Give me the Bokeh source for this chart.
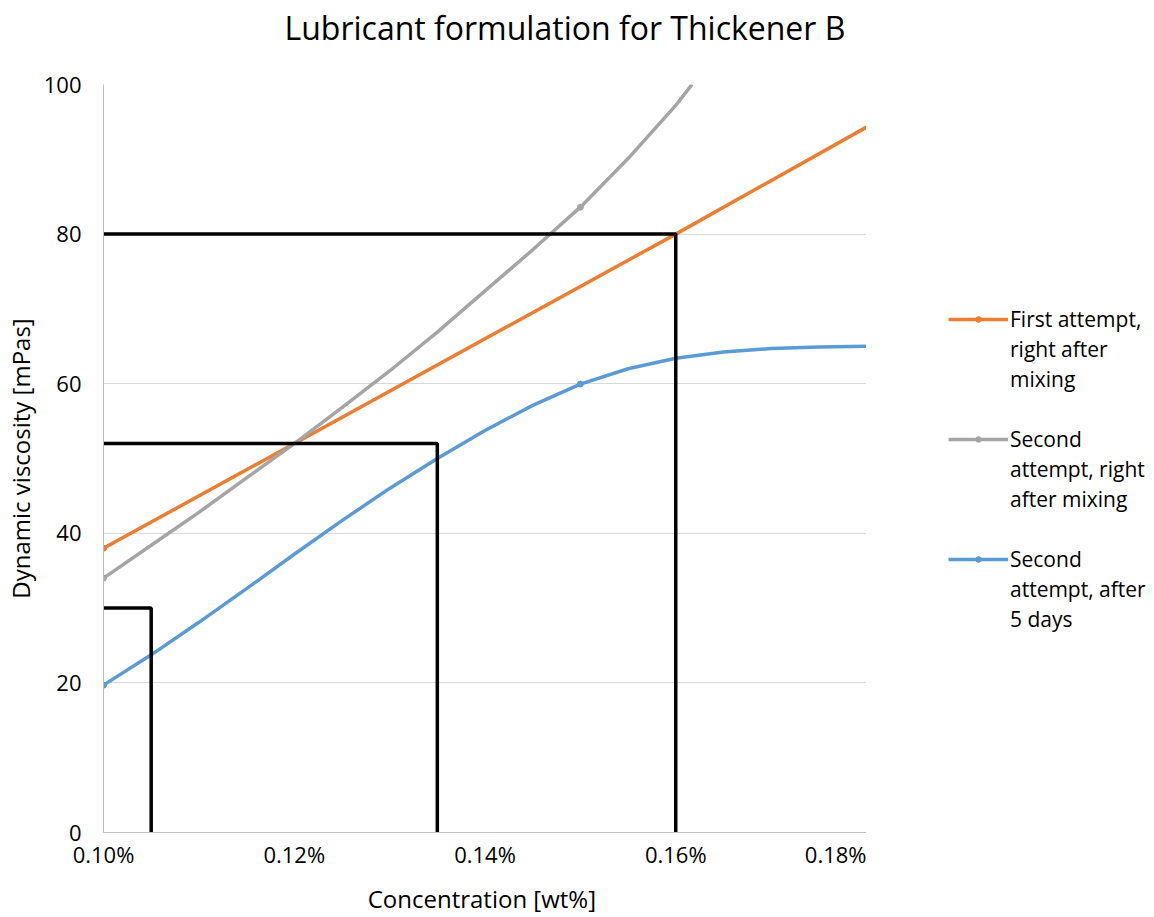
from bokeh.plotting import figure
from bokeh.layouts import row
from bokeh.models import Range1d, FixedTicker, PrintfTickFormatter, Legend, LegendItem, Title
from bokeh.embed import file_html
from bokeh.resources import INLINE

# ---- data ----
x_ticks = [0.10, 0.12, 0.14, 0.16, 0.18]
y_ticks = [0, 20, 40, 60, 80, 100]

first_conc = [0.10, 0.16, 0.18]
first_visc = [38.0, 80.0, 94.3]
first_marker_conc = [0.10]
first_marker_visc = [38.0]

second_conc = [0.100, 0.105, 0.110, 0.115, 0.120, 0.125, 0.130, 0.135,
               0.140, 0.145, 0.150, 0.155, 0.160, 0.1617]
second_visc = [34.0, 38.4, 42.8, 47.4, 52.0, 56.8, 61.7, 66.9,
               72.4, 77.9, 83.6, 90.1, 97.2, 100.0]
second_marker_conc = [0.10, 0.15]
second_marker_visc = [34.0, 83.6]

days_conc = [0.100, 0.105, 0.110, 0.115, 0.120, 0.125, 0.130, 0.135, 0.140,
             0.145, 0.150, 0.155, 0.160, 0.165, 0.170, 0.175, 0.180]
days_visc = [19.7, 23.75, 28.1, 32.6, 37.2, 41.7, 46.0, 50.0, 53.75,
             57.1, 59.95, 62.0, 63.4, 64.25, 64.7, 64.9, 65.0]
days_marker_conc = [0.10, 0.15]
days_marker_visc = [19.7, 59.95]

guide_conc = [0.105, 0.135, 0.16]
guide_visc = [30, 52, 80]

labels = [["First attempt,", "right after", "mixing"],
          ["Second", "attempt, right", "after mixing"],
          ["Second", "attempt, after", "5 days"]]
colors = ["#ED7D31", "#A5A5A5", "#5B9BD5"]

FONT = "Open Sans"

x_start, x_end = x_ticks[0], x_ticks[-1]
y_start, y_end = y_ticks[0], y_ticks[-1]

series = [
    (first_conc, first_visc, first_marker_conc, first_marker_visc),
    (second_conc, second_visc, second_marker_conc, second_marker_visc),
    (days_conc, days_visc, days_marker_conc, days_marker_visc),
]

# ---------------- main chart ----------------
p = figure(width=866, height=917, output_backend="svg", toolbar_location=None,
           x_range=Range1d(x_start, x_end), y_range=Range1d(y_start, y_end),
           min_border_left=103, min_border_right=0, min_border_top=84,
           min_border_bottom=85)

p.outline_line_color = None
p.background_fill_color = "white"
p.border_fill_color = "white"

# main title (outermost) + a blank spacer title between it and the plot area
p.title.text = "Lubricant formulation for Thickener B"
p.title.text_font = FONT
p.title.text_font_size = "32px"
p.title.text_font_style = "normal"
p.title.text_color = "#000000"
p.title.align = "left"
p.title.offset = 181
p.title.standoff = 0
spacer = Title(text=" ", text_font_size="16px", standoff=17)
p.add_layout(spacer, "above")

# axes
p.xaxis.ticker = FixedTicker(ticks=x_ticks)
p.yaxis.ticker = FixedTicker(ticks=y_ticks)
p.xaxis.formatter = PrintfTickFormatter(format="%.2f%%")
for ax in (p.xaxis, p.yaxis):
    ax.major_tick_line_color = None
    ax.minor_tick_line_color = None
    ax.major_tick_out = 0
    ax.major_tick_in = 0
    ax.minor_tick_out = 0
    ax.minor_tick_in = 0
    ax.axis_line_color = "#BFBFBF"
    ax.axis_line_width = 1
    ax.major_label_text_font = FONT
    ax.major_label_text_font_size = "22px"
    ax.major_label_text_color = "#000000"
    ax.axis_label_text_font = FONT
    ax.axis_label_text_font_size = "24px"
    ax.axis_label_text_font_style = "normal"
    ax.axis_label_text_color = "#000000"
p.xaxis.axis_label = "Concentration  [wt%]"
p.yaxis.axis_label = "Dynamic viscosity [mPas]"
p.xaxis.major_label_standoff = 6
p.xaxis.axis_label_standoff = 10
p.yaxis.major_label_standoff = 22
p.yaxis.axis_label_standoff = 4

p.xgrid.grid_line_color = None
p.ygrid.grid_line_color = "#D9D9D9"
p.ygrid.grid_line_width = 1

for (cx, cy, mx, my), col in zip(series, colors):
    p.line(cx, cy, line_color=col, line_width=3.5)
    p.scatter(mx, my, size=6, fill_color=col, line_color=col)

# guide lines
for c, v in zip(guide_conc, guide_visc):
    p.line([x_start, c, c], [v, v, y_start], line_color="#000000", line_width=3.5)

# ---------------- legend panel ----------------
# Same series drawn into a side panel whose ranges show none of them,
# so only the legend (glyph + label) is visible there.
pl = figure(width=288, height=917, output_backend="svg", toolbar_location=None,
            x_axis_location=None, y_axis_location=None,
            x_range=Range1d(-2, -1), y_range=Range1d(-2, -1),
            min_border_left=0, min_border_right=0, min_border_top=0,
            min_border_bottom=0)
pl.outline_line_color = None
pl.grid.visible = False

items = []
for k, ((cx, cy, mx, my), col, lab) in enumerate(zip(series, colors, labels)):
    ln = pl.line(cx, cy, line_color=col, line_width=3.5)
    mk = pl.scatter(mx, my, size=6, fill_color=col, line_color=col)
    items.append(LegendItem(label=lab[0], renderers=[ln, mk]))
    for extra in lab[1:]:
        items.append(LegendItem(label=extra, renderers=[]))
    if k < len(labels) - 1:
        items.append(LegendItem(label=" ", renderers=[]))

legend = Legend(items=items, location=(82, 198))
legend.border_line_color = None
legend.background_fill_alpha = 0
legend.label_text_font = FONT
legend.label_text_font_size = "21px"
legend.label_text_color = "#000000"
legend.glyph_width = 60
legend.glyph_height = 14
legend.label_height = 30
legend.label_standoff = 2
legend.spacing = 0
legend.margin = 0
legend.padding = 0
pl.add_layout(legend, "center")

layout = row(p, pl)
open("out.html", "w").write(file_html(layout, INLINE))
